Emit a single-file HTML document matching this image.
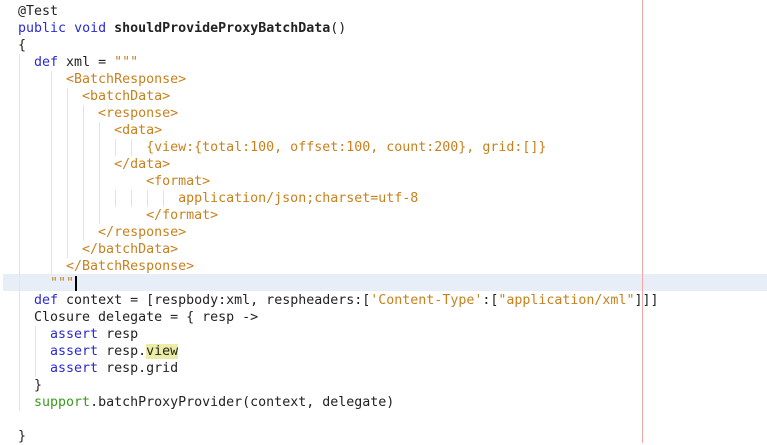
<!DOCTYPE html>
<html><head><style>
body{margin:0;width:767px;height:443px;background:#fff;overflow:hidden;position:relative;font-family:"DejaVu Sans Mono","Liberation Mono",monospace;font-size:13.3px;}
.l{position:absolute;left:18px;height:17px;line-height:17px;white-space:pre;color:#222;}
.k{color:#2b2bd0}.s{color:#c8811d}.g{color:#3a9a1c}.b{font-weight:bold}
.hl{background:#e8eef8;position:absolute;left:3px;right:0;top:274px;height:17px}
.red{position:absolute;left:642px;top:0;width:1px;height:443px;background:#f6a6a6}
.v{position:absolute;width:0;border-left:1px solid #e4e4e4}
.mark{background:#ececa4}
</style></head><body>
<div class="hl"></div>
<div class="v" style="left:19px;top:54px;height:357px"></div>
<div class="v" style="left:51px;top:71px;height:204px"></div>
<div class="v" style="left:67px;top:88px;height:170px"></div>
<div class="v" style="left:83px;top:105px;height:136px"></div>
<div class="v" style="left:99px;top:122px;height:102px"></div>
<div class="v" style="left:115px;top:139px;height:17px"></div>
<div class="v" style="left:131px;top:139px;height:17px"></div>
<div class="v" style="left:115px;top:190px;height:17px"></div>
<div class="v" style="left:131px;top:190px;height:17px"></div>
<div class="v" style="left:147px;top:190px;height:17px"></div>
<div class="v" style="left:163px;top:190px;height:17px"></div>
<div class="v" style="left:35px;top:326px;height:51px"></div>
<div class="red"></div>
<div class="l" style="top:3px">@Test</div>
<div class="l" style="top:20px"><span class="k">public</span> <span class="k">void</span> <span class="b">shouldProvideProxyBatchData</span>()</div>
<div class="l" style="top:37px">{</div>
<div class="l" style="top:54px">  <span class="k">def</span> xml = <span class="s">"""</span></div>
<div class="l s" style="top:71px">      &lt;BatchResponse&gt;</div>
<div class="l s" style="top:88px">        &lt;batchData&gt;</div>
<div class="l s" style="top:105px">          &lt;response&gt;</div>
<div class="l s" style="top:122px">            &lt;data&gt;</div>
<div class="l s" style="top:139px">                {view:{total:100, offset:100, count:200}, grid:[]}</div>
<div class="l s" style="top:156px">            &lt;/data&gt;</div>
<div class="l s" style="top:173px">                &lt;format&gt;</div>
<div class="l s" style="top:190px">                    application/json;charset=utf-8</div>
<div class="l s" style="top:207px">                &lt;/format&gt;</div>
<div class="l s" style="top:224px">          &lt;/response&gt;</div>
<div class="l s" style="top:241px">        &lt;/batchData&gt;</div>
<div class="l s" style="top:258px">      &lt;/BatchResponse&gt;</div>
<div class="l" style="top:275px">    <span class="s">"""</span><span style="border-left:2px solid #000;margin-left:1px"></span></div>
<div class="l" style="top:292px">  <span class="k">def</span> context = [respbody:xml, respheaders:[<span class="s">'Content-Type'</span>:[<span class="s">"application/xml"</span>]]]</div>
<div class="l" style="top:309px">  Closure delegate = { resp -&gt;</div>
<div class="l" style="top:326px">    <span class="k">assert</span> resp</div>
<div class="l" style="top:343px">    <span class="k">assert</span> resp.<span class="mark">view</span></div>
<div class="l" style="top:360px">    <span class="k">assert</span> resp.grid</div>
<div class="l" style="top:377px">  }</div>
<div class="l" style="top:394px">  <span class="g">support</span>.batchProxyProvider(context, delegate)</div>
<div class="l" style="top:428px">}</div>
</body></html>
